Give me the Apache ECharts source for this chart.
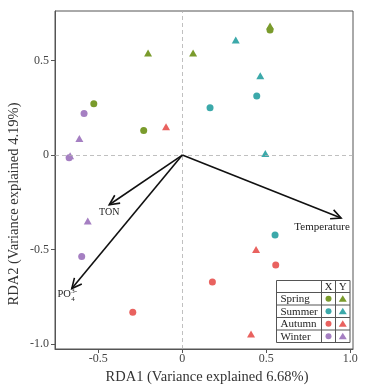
<!DOCTYPE html>
<html><head><meta charset="utf-8">
<script src="https://cdn.jsdelivr.net/npm/echarts@6/dist/echarts.min.js"></script>
<style>html,body{margin:0;padding:0;background:#fff}#c{width:373px;height:388px}</style>
</head><body><div id="c"></div>
<script>
// ---- data ----
const xTicks = [-0.5, 0, 0.5, 1.0];
const yTicks = [-1.0, -0.5, 0, 0.5];
const seasons = ['Spring', 'Summer', 'Autumn', 'Winter'];
// site scores: X (circles) and Y (triangles)
const springX = [[-0.527, 0.271], [-0.230, 0.130], [0.522, 0.662]];
const springY = [[-0.204, 0.540], [0.064, 0.540], [0.522, 0.683]];
const summerX = [[0.165, 0.250], [0.443, 0.312], [0.552, -0.423]];
const summerY = [[0.318, 0.609], [0.464, 0.419], [0.494, 0.008]];
const autumnX = [[0.556, -0.581], [0.179, -0.671], [-0.295, -0.832]];
const autumnY = [[-0.097, 0.150], [0.439, -0.500], [0.409, -0.946]];
const winterX = [[-0.585, 0.220], [-0.674, -0.014], [-0.599, -0.537]];
const winterY = [[-0.613, 0.088], [-0.668, -0.004], [-0.563, -0.349]];
// environmental vectors
const envNames = ['TON', 'PO4', 'Temperature'];
const envX = [-0.435, -0.658, 0.945];
const envY = [-0.263, -0.706, -0.333];

// ---- styles ----
const colors = {Spring: '#7a9b2c', Summer: '#3ca9aa', Autumn: '#e9625f', Winter: '#a57fc2'};
const serif = '"Liberation Serif", "DejaVu Serif", serif';
const seriesData = {Spring: [springX, springY], Summer: [summerX, summerY], Autumn: [autumnX, autumnY], Winter: [winterX, winterY]};

const chart = echarts.init(document.getElementById('c'), null, {renderer: 'canvas'});
const fmt = v => (Math.abs(v) < 1e-9 ? '0' : v.toFixed(1));

const series = [];
seasons.forEach((s, i) => {
  series.push({type: 'scatter', name: s + ' X', data: seriesData[s][0], symbol: 'circle', symbolSize: 7,
    itemStyle: {color: colors[s], opacity: 1}, z: 3,
    markLine: i === 0 ? {silent: true, symbol: 'none', label: {show: false},
      lineStyle: {type: [4, 3], color: '#b0b0b0', width: 0.8},
      data: [{xAxis: 0}, {yAxis: 0}]} : undefined});
  series.push({type: 'scatter', name: s + ' Y', data: seriesData[s][1], symbol: 'triangle', symbolSize: [8, 7],
    itemStyle: {color: colors[s], opacity: 1}, z: 3});
});

const labelOffset = {TON: [0, 8], PO4: [-2, 6], Temperature: [-19, 9]};
series.push({
  type: 'custom', name: 'env', z: 5,
  data: envNames.map((n, i) => [envX[i], envY[i], i]),
  renderItem: function (params, api) {
    const i = api.value(2);
    const name = envNames[i];
    const p0 = api.coord([0, 0]);
    const p1 = api.coord([api.value(0), api.value(1)]);
    const ang = Math.atan2(p1[1] - p0[1], p1[0] - p0[0]);
    const L = 11, a = 0.45;
    const h1 = [p1[0] - L * Math.cos(ang - a), p1[1] - L * Math.sin(ang - a)];
    const h2 = [p1[0] - L * Math.cos(ang + a), p1[1] - L * Math.sin(ang + a)];
    const ls = {stroke: '#111', lineWidth: 1.6, fill: null};
    const off = labelOffset[name];
    const cx = p1[0] + off[0], cy = p1[1] + off[1];
    const children = [
      {type: 'line', shape: {x1: p0[0], y1: p0[1], x2: p1[0], y2: p1[1]}, style: ls},
      {type: 'polyline', shape: {points: [h1, p1, h2]}, style: ls}
    ];
    if (name === 'PO4') {
      children.push({type: 'text', style: {text: 'PO', x: cx + 1, y: cy, align: 'right', verticalAlign: 'middle', font: '10.5px ' + serif, fill: '#222'}});
      children.push({type: 'text', style: {text: '4', x: cx + 1.5, y: cy + 5, align: 'left', verticalAlign: 'middle', font: '7px ' + serif, fill: '#222'}});
      children.push({type: 'text', style: {text: '3-', x: cx + 1.5, y: cy - 3, align: 'left', verticalAlign: 'middle', font: '7px ' + serif, fill: '#222'}});
    } else {
      children.push({type: 'text', style: {text: name, x: cx, y: cy, align: 'center', verticalAlign: 'middle',
        font: (name === 'TON' ? '10px ' : '11px ') + serif, fill: '#222'}});
    }
    return {type: 'group', children: children};
  }
});

// legend table (graphic)
const tL = 276.5, tR = 350, c1 = 321.5, c2 = 335.5;
const rowsY = [280.5, 292.5, 305, 317.5, 330, 342.5];
const g = [];
g.push({type: 'rect', shape: {x: tL, y: rowsY[0], width: tR - tL, height: rowsY[5] - rowsY[0]},
  style: {fill: '#fff', stroke: '#555', lineWidth: 1}, z: 10});
for (let k = 1; k < 5; k++) g.push({type: 'line', shape: {x1: tL, y1: rowsY[k], x2: tR, y2: rowsY[k]}, style: {stroke: '#555', lineWidth: 1}, z: 11});
[c1, c2].forEach(x => g.push({type: 'line', shape: {x1: x, y1: rowsY[0], x2: x, y2: rowsY[5]}, style: {stroke: '#555', lineWidth: 1}, z: 11}));
g.push({type: 'text', style: {text: 'X', x: (c1 + c2) / 2, y: (rowsY[0] + rowsY[1]) / 2 + 0.5, align: 'center', verticalAlign: 'middle', font: '10.5px ' + serif, fill: '#222'}, z: 12});
g.push({type: 'text', style: {text: 'Y', x: (c2 + tR) / 2, y: (rowsY[0] + rowsY[1]) / 2 + 0.5, align: 'center', verticalAlign: 'middle', font: '10.5px ' + serif, fill: '#222'}, z: 12});
seasons.forEach((s, k) => {
  const cy = (rowsY[k + 1] + rowsY[k + 2]) / 2;
  g.push({type: 'text', style: {text: s, x: tL + 4, y: cy + 0.5, align: 'left', verticalAlign: 'middle', font: '11px ' + serif, fill: '#222'}, z: 12});
  g.push({type: 'circle', shape: {cx: (c1 + c2) / 2, cy: cy, r: 3}, style: {fill: colors[s]}, z: 12});
  const tx = (c2 + tR) / 2;
  g.push({type: 'polygon', shape: {points: [[tx, cy - 3.5], [tx + 4, cy + 3], [tx - 4, cy + 3]]}, style: {fill: colors[s]}, z: 12});
});
g.push({type: 'text', style: {text: 'RDA1 (Variance explained 6.68%)', x: 207, y: 377.5, align: 'center', verticalAlign: 'middle', font: '14.5px ' + serif, fill: '#333'}});
g.push({type: 'text', rotation: Math.PI / 2, x: 14, y: 204, style: {text: 'RDA2 (Variance explained 4.19%)', x: 0, y: 0, align: 'center', verticalAlign: 'middle', font: '14.5px ' + serif, fill: '#333'}});

chart.setOption({
  animation: false,
  backgroundColor: '#fff',
  grid: {left: 55, right: 20, top: 11, bottom: 39, show: true, borderColor: '#555', borderWidth: 1, backgroundColor: 'transparent'},
  xAxis: {type: 'value', min: -0.758, max: 1.016,
    axisLine: {show: true, onZero: false, lineStyle: {color: '#555'}},
    axisTick: {show: true, length: 4, customValues: xTicks, lineStyle: {color: '#555'}},
    axisLabel: {customValues: xTicks, formatter: fmt, margin: 4, color: '#444', fontFamily: serif, fontSize: 12},
    splitLine: {show: false}},
  yAxis: {type: 'value', min: -1.026, max: 0.762,
    axisLine: {show: true, onZero: false, lineStyle: {color: '#555'}},
    axisTick: {show: true, length: 4, customValues: yTicks, lineStyle: {color: '#555'}},
    axisLabel: {customValues: yTicks, formatter: fmt, margin: 6, color: '#444', fontFamily: serif, fontSize: 12},
    splitLine: {show: false}},
  series: series,
  graphic: g
});
</script></body></html>
